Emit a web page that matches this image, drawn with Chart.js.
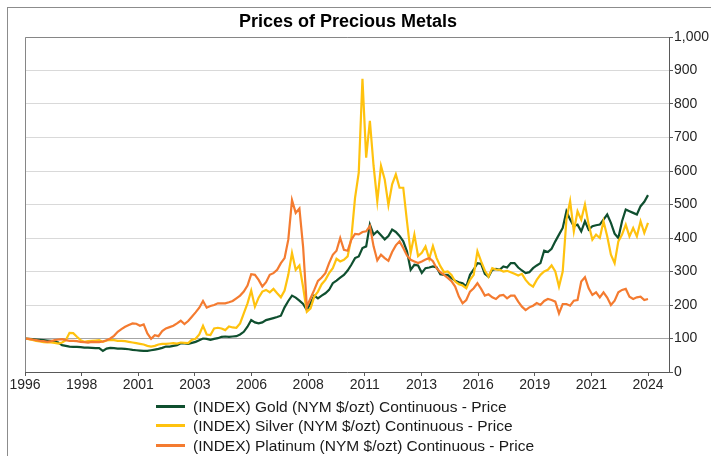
<!DOCTYPE html>
<html>
<head>
<meta charset="utf-8">
<title>Prices of Precious Metals</title>
<script src="https://cdn.jsdelivr.net/npm/chart.js@4.4.0/dist/chart.umd.min.js"></script>
<style>
  html, body { margin: 0; padding: 0; background: #fff; }
  #wrap { position: relative; width: 711px; height: 456px; overflow: hidden; font-family: "Liberation Sans", Arial, sans-serif; }
  #frame { position: absolute; left: 7px; top: 7px; width: 730px; height: 480px; border: 1px solid #8c8c8c; box-sizing: border-box; }
  #chart { position: absolute; left: 0; top: 0; }
  #title { position: absolute; left: 0; top: 11px; width: 696px; text-align: center; font-weight: bold; font-size: 18px; line-height: 20px; color: #000; }
  #legend { position: absolute; left: 156px; top: 397px; font-size: 15.5px; color: #1a1a1a; }
  #legend .row { position: relative; height: 19.3px; line-height: 19.3px; padding-left: 37px; white-space: nowrap; }
  #legend .swatch { position: absolute; left: 0; top: 8px; width: 29px; height: 3px; }
</style>
</head>
<body>
<div id="wrap">
  <div id="frame"></div>
  <canvas id="chart" width="711" height="456"></canvas>
  <div id="title">Prices of Precious Metals</div>
  <div id="legend"></div>
</div>
<script>
// bi-monthly index values, first point = Jan 1996 (=100)
const START_YEAR = 1996;
const STEP = 1 / 6;

const tickLabels = ['1996', '1998', '2001', '2003', '2006', '2008', '2011', '2013', '2016', '2019', '2021', '2024'];

const seriesNames = [
    '(INDEX) Gold (NYM $/ozt) Continuous - Price',
    '(INDEX) Silver (NYM $/ozt) Continuous - Price',
    '(INDEX) Platinum (NYM $/ozt) Continuous - Price'
];
const seriesColors = ['#0f4f2f', '#ffc20e', '#f47b30'];

const gold = [
    100, 99, 98, 97, 96, 95,
    94, 93, 91, 88, 80, 78,
    76, 75, 75, 74, 73, 73,
    72, 71, 71, 63, 70, 72,
    71, 70, 70, 69, 68, 66,
    65, 64, 63, 63, 65, 67,
    69, 72, 76, 76, 78, 80,
    86, 85, 84, 87, 90, 95,
    100, 99, 96, 99, 101, 105,
    106, 105, 106, 107, 112, 120,
    135, 155, 148, 145, 148, 155,
    158, 161, 164, 168, 193, 212,
    228, 222, 213, 203, 185, 205,
    228, 220, 228, 235, 245, 265,
    273, 282, 290, 303, 320, 340,
    345, 370, 375, 440, 410, 420,
    408, 396, 406, 425, 418, 406,
    390, 360, 305, 320, 318, 296,
    310, 312, 315, 312, 292, 290,
    290, 280, 272, 268, 265, 255,
    290, 306, 325, 323, 293, 284,
    305, 308, 305, 315, 312, 325,
    325, 312, 303, 295, 298, 310,
    318, 325, 362, 358, 368, 390,
    410, 430, 480, 455, 435, 440,
    420, 450, 425, 435, 438, 440,
    455, 470, 445, 413, 400, 450,
    485, 480, 475, 470, 495, 508,
    528
];

const silver = [
    100, 98, 96, 93, 91, 89,
    88, 88, 87, 85, 88, 95,
    117, 116, 105, 95, 90, 92,
    93, 94, 95, 90, 94, 96,
    95, 93, 93, 92, 90, 88,
    86, 84, 82, 78, 76, 78,
    82, 84, 84, 85, 86, 85,
    88, 87, 86, 96, 99, 112,
    138, 112, 110, 130, 132, 130,
    125, 136, 133, 132, 145, 175,
    205, 243, 195, 222, 240, 245,
    238, 248, 235, 223, 243, 290,
    355, 305, 318, 253, 180, 190,
    225, 240, 262, 275, 295, 310,
    338, 330, 335, 345, 400, 520,
    595, 875, 640, 750, 615, 510,
    615, 575, 498, 560, 590, 550,
    550, 450, 355, 410, 346, 356,
    375, 338, 376, 340, 316, 298,
    300, 290, 270, 262, 258, 250,
    275, 290, 360, 330, 303, 285,
    310, 306, 305, 300, 302, 298,
    293, 288, 293, 275, 262, 255,
    275, 290, 300, 305, 318, 300,
    255, 300, 455, 510, 420, 480,
    455, 500, 440, 395, 410, 400,
    450, 405, 350, 325, 390, 410,
    440, 405, 430, 405, 450, 415,
    445
];

const platinum = [
    100, 99, 97, 95, 93, 92,
    90, 92, 95, 97, 98, 95,
    93, 93, 92, 90, 89, 88,
    90, 89, 89, 91, 95, 100,
    108, 120, 128, 135, 140, 145,
    144, 138, 142, 115, 99, 110,
    107, 122, 130, 134, 138, 145,
    153, 143, 152, 165, 178, 192,
    212, 192, 197, 200, 205, 205,
    205, 208, 212, 220, 228, 240,
    258, 292, 290, 275, 255, 268,
    290, 295, 305, 325, 340, 395,
    513, 475, 488, 373, 195, 220,
    245, 272, 282, 295, 325, 350,
    362, 400, 365, 362, 395, 412,
    411, 418, 420, 436, 375, 333,
    350, 340, 332, 358, 378, 390,
    370, 348, 335, 330, 325, 330,
    336, 340, 331, 310, 298, 290,
    281, 271, 255, 225, 205, 215,
    240, 250, 265, 248, 228, 232,
    223, 218, 228, 230, 220, 228,
    228, 210, 195, 185, 193, 198,
    206, 200, 212, 218, 215, 210,
    175, 203, 203, 198, 213, 215,
    270, 283, 250, 230, 238, 223,
    238, 222, 200, 213, 238, 245,
    248, 225, 218, 223, 225, 215,
    218
];

function toPoints(values) {
    return values.map((v, i) => ({ x: START_YEAR + i * STEP, y: v }));
}

// gray box round the plot area
const plotFrame = {
    id: 'plotFrame',
    afterDatasetsDraw(chart) {
        const a = chart.chartArea;
        const ctx = chart.ctx;
        ctx.save();
        ctx.strokeStyle = '#868686';
        ctx.lineWidth = 1;
        ctx.beginPath();
        ctx.moveTo(a.left + 0.5, a.bottom);
        ctx.lineTo(a.left + 0.5, a.top + 0.5);
        ctx.lineTo(a.right, a.top + 0.5);
        ctx.stroke();
        ctx.restore();
    }
};

const data = {
    datasets: [
        { label: seriesNames[0], data: toPoints(gold), borderColor: seriesColors[0], order: 2 },
        { label: seriesNames[1], data: toPoints(silver), borderColor: seriesColors[1], order: 1 },
        { label: seriesNames[2], data: toPoints(platinum), borderColor: seriesColors[2], order: 0 }
    ]
};

const xMax = START_YEAR + (669 - 25) / 22.25;

const config = {
    type: 'line',
    data: data,
    options: {
        responsive: false,
        animation: false,
        devicePixelRatio: 1,
        layout: { padding: { left: 25, top: 37, right: 0, bottom: 0 } },
        elements: {
            point: { radius: 0 },
            line: { borderWidth: 2.2, tension: 0 }
        },
        plugins: {
            legend: { display: false },
            title: { display: false },
            tooltip: { enabled: false }
        },
        scales: {
            x: {
                type: 'linear',
                min: START_YEAR,
                max: xMax,
                afterBuildTicks: scale => {
                    scale.ticks = tickLabels.map((l, i) => ({ value: START_YEAR + i * 28 / 11 }));
                },
                afterFit: scale => { scale.height = 84; },
                ticks: {
                    autoSkip: false,
                    maxRotation: 0,
                    padding: 1,
                    color: '#262626',
                    font: { family: '"Liberation Sans", Arial, sans-serif', size: 14 },
                    callback: (v, i) => tickLabels[i]
                },
                grid: { display: true, drawOnChartArea: false, drawTicks: true, tickLength: 4, tickColor: '#595959' },
                border: { display: true, color: '#595959', width: 1 }
            },
            y: {
                position: 'right',
                min: 0,
                max: 1000,
                afterFit: scale => { scale.width = 42; },
                ticks: {
                    stepSize: 100,
                    padding: 1,
                    color: '#262626',
                    font: { family: '"Liberation Sans", Arial, sans-serif', size: 14 }
                },
                grid: {
                    color: ctx => (ctx.tick && ctx.tick.value === 100) ? '#a6a6a6' : '#d9d9d9',
                    tickLength: 4,
                    tickColor: '#595959'
                },
                border: { display: true, color: '#595959', width: 1 }
            }
        }
    },
    plugins: [plotFrame]
};

const chart = new Chart(document.getElementById('chart').getContext('2d'), config);

// legend as three left-aligned rows
const legend = document.getElementById('legend');
chart.data.datasets.forEach(ds => {
    const row = document.createElement('div');
    row.className = 'row';
    const sw = document.createElement('span');
    sw.className = 'swatch';
    sw.style.background = ds.borderColor;
    row.appendChild(sw);
    row.appendChild(document.createTextNode(ds.label));
    legend.appendChild(row);
});
</script>
</body>
</html>
